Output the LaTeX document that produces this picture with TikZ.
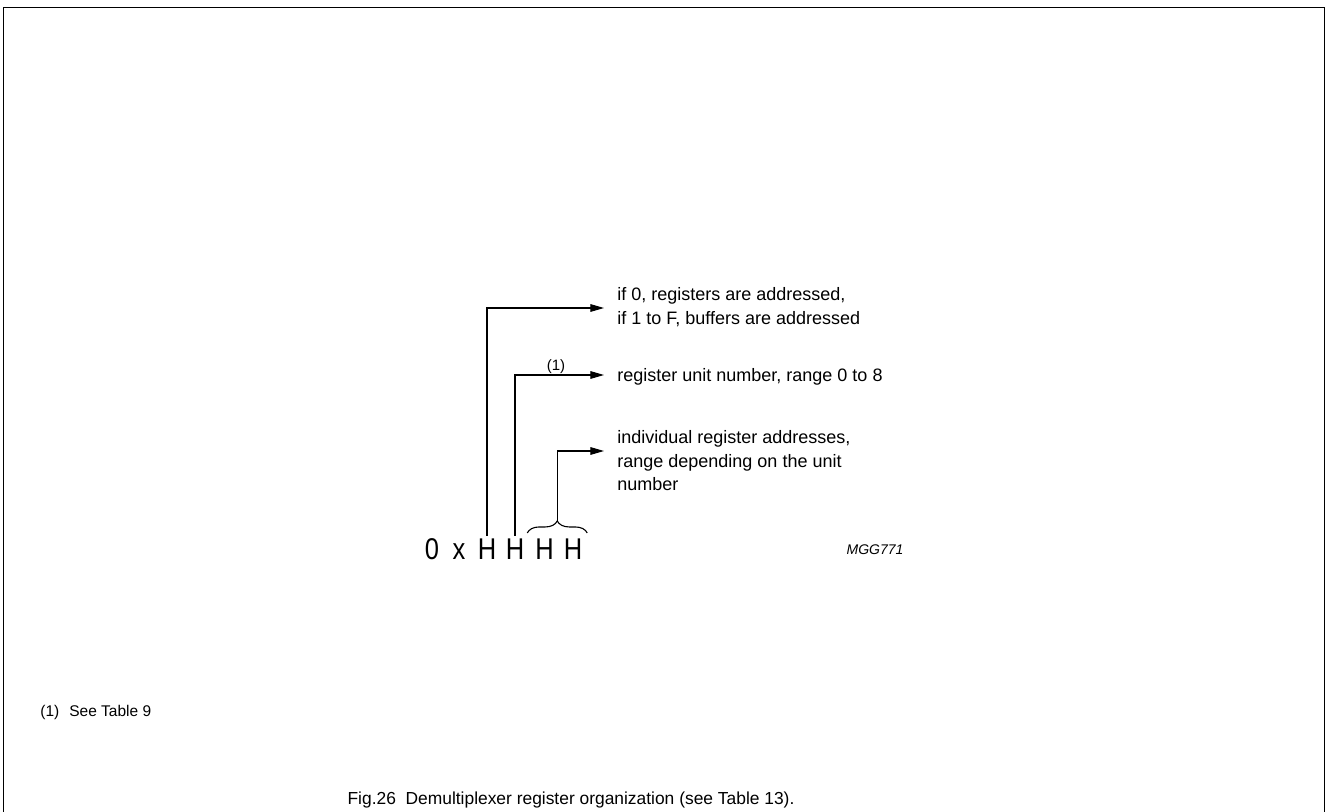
\documentclass[tikz,border=0pt]{standalone}
\usepackage{fontspec}
\setmainfont{Liberation Sans}
\usetikzlibrary{calc,arrows.meta,decorations.pathreplacing}

\tikzset{
	conn/.style={line width=0.55pt, -{Triangle[length=6.8pt,width=3.8pt]}},
	lbl/.style={inner sep=0pt, font=\fontsize{9}{11.8}\selectfont, align=left, anchor=north west},
	hexchar/.style={inner sep=1pt, font=\fontsize{15}{17}\selectfont, anchor=base, xscale=0.85, transform shape},
	bracedeco/.style={line width=0.55pt, decorate, decoration={brace, amplitude=6pt}},
}

\begin{document}
\begin{tikzpicture}[x=0.5pt, y=-0.5pt]
			%%%%% START %%%%%
			
			\useasboundingbox (0, 0) rectangle (1327, 812);
			\draw[line width=0.75pt] (3.5, 812) -- (3.5, 7.5) -- (1324.5, 7.5) -- (1324.5, 812);
			
			\node[hexchar] (zero) at (432, 559) {0};
			\node[hexchar] (ex) at (459, 559) {x};
			\node[hexchar] (h1) at (487, 559) {H};
			\node[hexchar] (h2) at (515, 559) {H};
			\node[hexchar] (h3) at (544.5, 559) {H};
			\node[hexchar] (h4) at (573, 559) {H};
			
			\node[lbl] (sel) at (617, 287) {if 0, registers are addressed,\\if 1 to F, buffers are addressed};
			\node[lbl] (unit) at (617, 368) {register unit number, range 0 to 8};
			\node[lbl] (regs) at (617, 430) {individual register addresses,\\range depending on the unit\\number};
			
			\coordinate (tipA) at (604, 308);
			\coordinate (tipB) at (604, 375);
			\coordinate (tipC) at (604, 451);
			
			\draw[conn] (h1.north) |- (tipA);
			\draw[conn] (h2.north) |- (tipB);
			\node[font=\fontsize{7.5}{9}\selectfont, inner sep=0pt] (note) at (556, 367) {(1)};
			
			\coordinate (bl) at ($(h3.north west)+(-3pt, 1.5pt)$);
			\coordinate (br) at ($(h4.north east)+(1.5pt, 1.5pt)$);
			\draw[bracedeco] (bl) -- (br);
			\coordinate (btip) at ($(bl)!0.5!(br)+(0pt, 6pt)$);
			\draw[conn] (btip) |- (tipC);
			
			\node[font=\fontsize{7}{8}\itshape, inner sep=0pt] (mgg) at (875, 550) {MGG771};
			
			\node[font=\fontsize{7.75}{9}\selectfont, inner sep=0pt, anchor=west] (foot) at (40, 712) {(1)\hspace{5pt}See Table 9};
			\node[font=\fontsize{8.7}{10.5}\selectfont, inner sep=0pt] (caption) at (571, 800) {Fig.26~~Demultiplexer register organization (see Table 13).};
			
			%%%%% END %%%%%
\end{tikzpicture}
\end{document}
